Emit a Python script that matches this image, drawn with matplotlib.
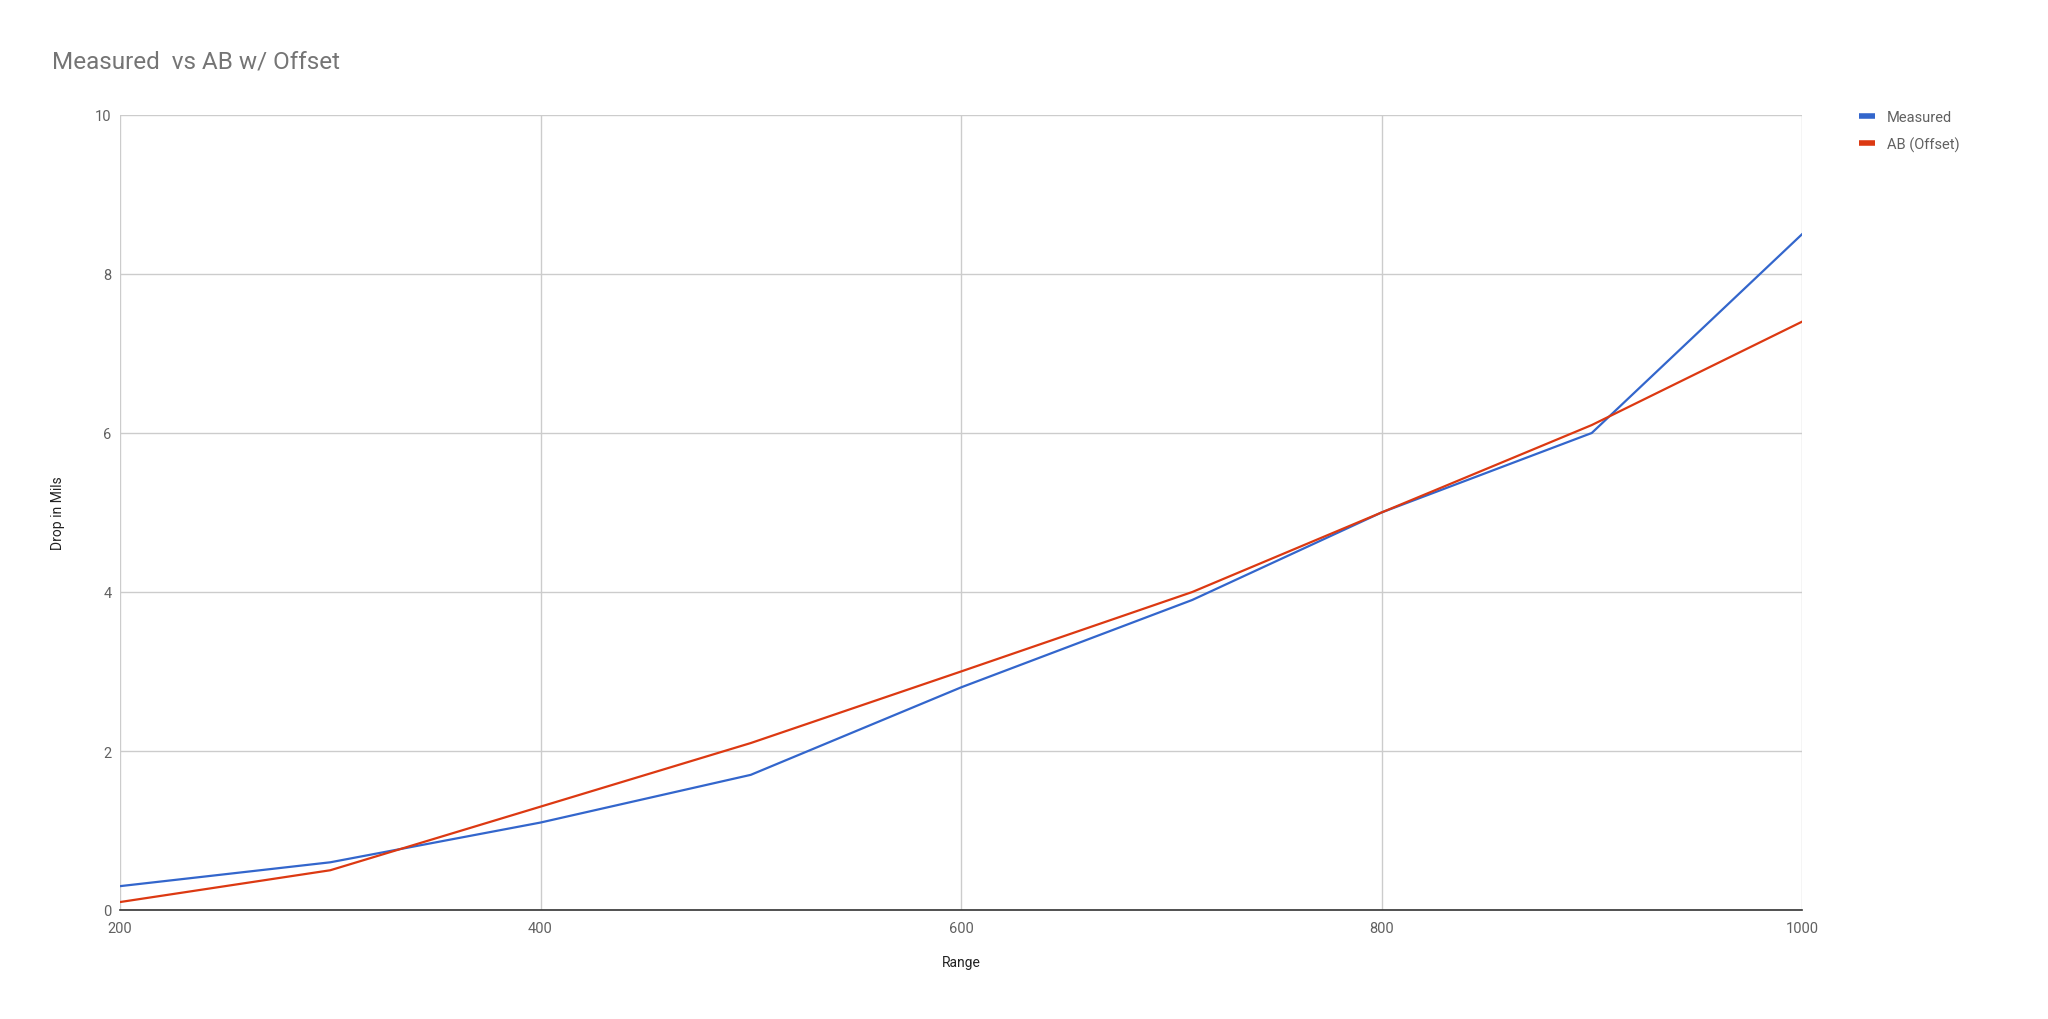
import matplotlib
matplotlib.use('Agg')
import matplotlib.pyplot as plt
from matplotlib.lines import Line2D

plt.rcParams['font.family'] = ['Roboto', 'DejaVu Sans']

# Data
ranges_measured = [200, 300, 400, 500, 600, 710, 800, 900, 1000]
measured = [0.3, 0.6, 1.1, 1.7, 2.8, 3.9, 5.0, 6.0, 8.5]
ranges_ab = [200, 300, 400, 500, 600, 710, 800, 900, 1000]
ab_offset = [0.1, 0.5, 1.3, 2.1, 3.0, 4.0, 5.0, 6.1, 7.4]
x_ticks = [200, 400, 600, 800, 1000]
y_ticks = [0, 2, 4, 6, 8, 10]

BLUE = '#3366cc'
RED = '#dc3912'
GRID = '#cccccc'
TEXT = '#757575'

fig = plt.figure(figsize=(20.48, 10.20), dpi=100)
ax = fig.add_axes([120 / 2048, 1 - 911 / 1020, (1802 - 120) / 2048, (911 - 116) / 1020])

ax.plot(ranges_measured, measured, color=BLUE, lw=1.6, solid_joinstyle='round', zorder=3)
ax.plot(ranges_ab, ab_offset, color=RED, lw=1.6, solid_joinstyle='round', zorder=4)

ax.set_xlim(200, 1000)
ax.set_ylim(0, 10)
ax.set_xticks(x_ticks)
ax.set_yticks(y_ticks)
ax.grid(True, color=GRID, lw=1.0)
ax.set_axisbelow(True)
for side in ['top', 'right', 'left']:
    ax.spines[side].set_visible(False)
ax.spines['bottom'].set_color('#333333')
ax.spines['bottom'].set_linewidth(1.2)
ax.tick_params(length=0, labelsize=10.5, labelcolor='#616161', pad=8)
ax.tick_params(axis='y', pad=6)

ax.set_xlabel('Range', fontsize=10, color='#222222', labelpad=14)
ax.set_ylabel('Drop in Mils', fontsize=10, color='#222222', labelpad=22)

fig.text(52 / 2048, 1 - 62 / 1020, 'Measured  vs AB w/ Offset', fontsize=17.5,
         color=TEXT, va='center', ha='left')

handles = [Line2D([], [], color=BLUE, lw=4, solid_capstyle='butt'),
           Line2D([], [], color=RED, lw=4, solid_capstyle='butt')]
fig.legend(handles, ['Measured', 'AB (Offset)'], loc='upper left',
           bbox_to_anchor=(1846 / 2048, 1 - 98 / 1020), frameon=False,
           fontsize=10.5, handlelength=1.1, handletextpad=0.8,
           labelspacing=0.85, labelcolor='#616161')

fig.savefig('out.png', dpi=100, facecolor='white')
